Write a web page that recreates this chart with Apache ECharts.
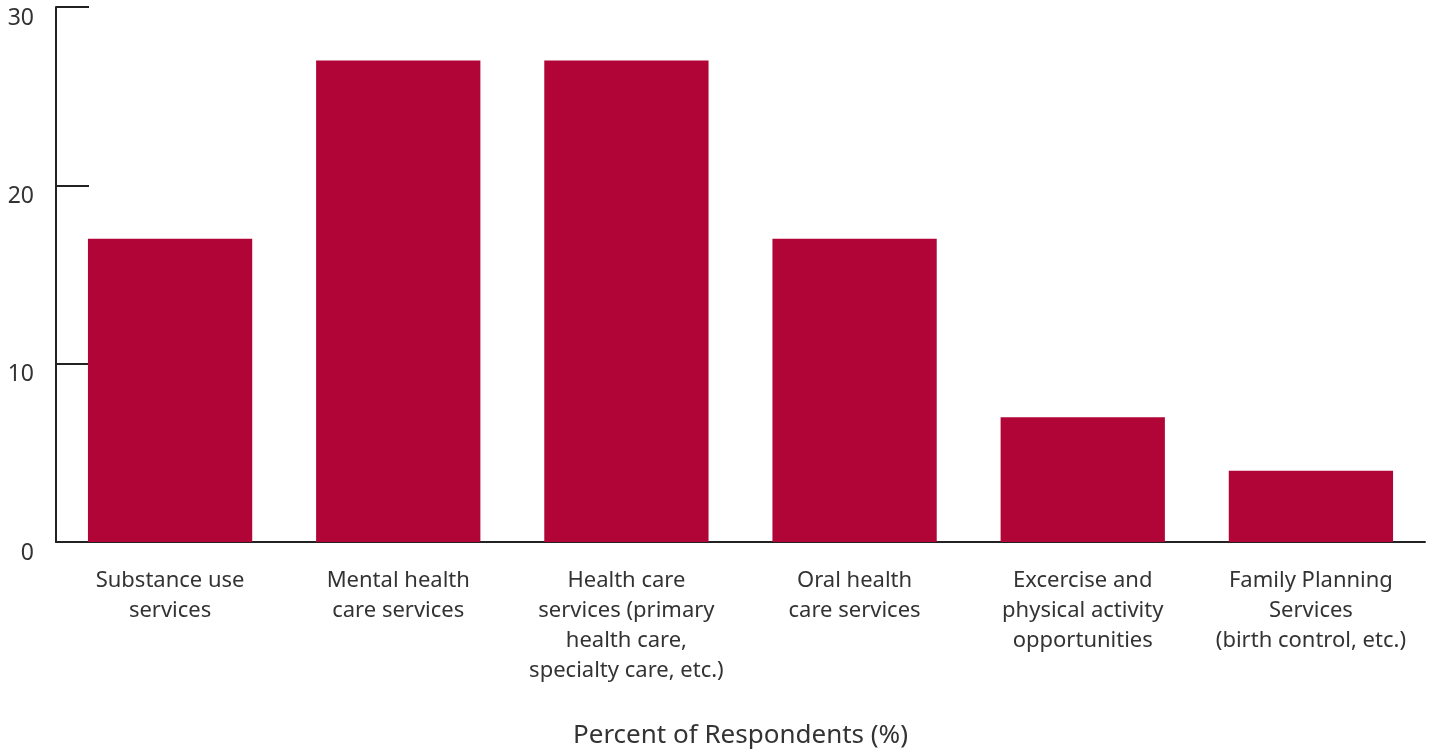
<!DOCTYPE html>
<html>
<head>
<meta charset="utf-8">
<script src="https://cdn.jsdelivr.net/npm/echarts@6/dist/echarts.min.js"></script>
<style>
  html, body { margin: 0; padding: 0; background: #fff; }
  #chart { width: 1435px; height: 752px; }
</style>
</head>
<body>
<div id="chart"></div>
<script>
// categories and values
var categories = [
  "Substance use\nservices",
  "Mental health\ncare services",
  "Health care\nservices (primary\nhealth care,\nspecialty care, etc.)",
  "Oral health\ncare services",
  "Excercise and\nphysical activity\nopportunities",
  "Family Planning\nServices\n(birth control, etc.)"
];
var percents = [17, 27, 27, 17, 7, 4];
var yTicks = [0, 10, 20, 30];

var myChart = echarts.init(document.getElementById("chart"));
var axisColor = "#222";
var textColor = "#333";
var font = "'Noto Sans', 'Open Sans', sans-serif";

var option = {
  animation: false,
  grid: { left: 56, right: 10, top: 7, bottom: 210, outerBoundsMode: "none" },
  xAxis: {
    type: "category",
    data: categories,
    name: "Percent of Respondents (%)",
    nameLocation: "middle",
    nameGap: 181,
    nameTextStyle: { fontSize: 26, color: textColor, fontFamily: font },
    axisLine: { lineStyle: { color: axisColor, width: 2 } },
    axisTick: { inside: true, length: 13, lineStyle: { color: axisColor, width: 2 } },
    axisLabel: {
      interval: 0,
      margin: 24,
      fontSize: 22,
      lineHeight: 30,
      color: textColor,
      fontFamily: font
    }
  },
  yAxis: {
    type: "value",
    min: yTicks[0],
    max: yTicks[yTicks.length - 1],
    interval: 10,
    splitLine: { show: false },
    axisLine: { show: true, lineStyle: { color: axisColor, width: 2 } },
    axisTick: { show: true, inside: true, length: 33, lineStyle: { color: axisColor, width: 2 } },
    axisLabel: {
      margin: 22,
      fontSize: 23,
      lineHeight: 22,
      verticalAlign: "top",
      color: textColor,
      fontFamily: font
    }
  },
  series: [
    {
      type: "bar",
      data: percents,
      barCategoryGap: "28%",
      itemStyle: { color: "#B20537" }
    }
  ]
};

myChart.setOption(option);
</script>
</body>
</html>
